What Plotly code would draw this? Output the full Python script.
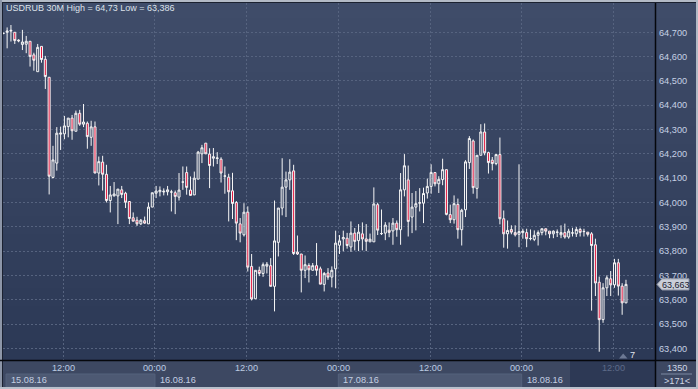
import plotly.graph_objects as go
import numpy as np

# ---------------- data ----------------
title_text = "USDRUB 30M High = 64,73 Low = 63,386"

open_ = [64.695, 64.700, 64.705, 64.700, 64.668, 64.650, 64.651, 64.663, 64.607, 64.538,
         64.642, 64.589, 64.515, 64.103, 64.162, 64.281, 64.282, 64.312, 64.347, 64.293,
         64.367, 64.322, 64.326, 64.268, 64.311, 64.121, 64.166, 64.116, 64.008, 64.027,
         64.027, 64.052, 64.038, 64.004, 63.937, 63.927, 63.912, 63.925, 63.912, 63.981,
         64.038, 64.044, 64.043, 64.044, 64.043, 64.040, 64.022, 64.084, 64.123, 64.051,
         64.031, 64.096, 64.200, 64.244, 64.199, 64.182, 64.181, 64.178, 64.108, 64.104,
         64.048, 64.000, 63.912, 63.867, 63.960, 63.737, 63.604, 63.721, 63.708, 63.738,
         63.740, 63.655, 63.836, 63.977, 64.063, 64.093, 64.130, 63.796, 63.788, 63.721,
         63.741, 63.721, 63.740, 63.727, 63.663, 63.710, 63.693, 63.727, 63.824, 63.850,
         63.853, 63.817, 63.874, 63.843, 63.871, 63.850, 63.838, 63.838, 63.991, 63.872,
         63.874, 63.886, 63.883, 63.915, 63.888, 64.052, 64.093, 63.940, 63.981, 63.997,
         63.997, 64.039, 64.066, 64.123, 64.077, 64.094, 64.135, 63.950, 63.929, 63.992,
         63.888, 63.970, 64.164, 64.253, 64.058, 64.194, 64.290, 64.205, 64.174, 64.160,
         64.197, 63.933, 63.871, 63.889, 63.876, 63.869, 63.876, 63.876, 63.851, 63.848,
         63.865, 63.876, 63.892, 63.882, 63.871, 63.877, 63.867, 63.876, 63.858, 63.874,
         63.871, 63.889, 63.880, 63.878, 63.871, 63.826, 63.672, 63.518, 63.649, 63.686,
         63.661, 63.752, 63.656, 63.587]
high = [64.698, 64.720, 64.730, 64.700, 64.671, 64.710, 64.685, 64.663, 64.616, 64.652,
        64.642, 64.603, 64.515, 64.233, 64.310, 64.312, 64.356, 64.347, 64.360, 64.378,
        64.381, 64.405, 64.333, 64.336, 64.333, 64.189, 64.192, 64.155, 64.068, 64.084,
        64.055, 64.068, 64.044, 64.004, 63.959, 63.941, 63.932, 63.942, 64.000, 64.040,
        64.068, 64.066, 64.058, 64.068, 64.052, 64.049, 64.121, 64.148, 64.148, 64.107,
        64.127, 64.212, 64.237, 64.244, 64.223, 64.224, 64.207, 64.186, 64.148, 64.118,
        64.122, 64.006, 63.936, 63.997, 63.984, 63.788, 63.721, 63.736, 63.753, 63.755,
        63.771, 64.008, 63.977, 64.182, 64.127, 64.178, 64.155, 63.864, 63.788, 63.782,
        63.750, 63.751, 63.833, 63.736, 63.714, 63.730, 63.737, 63.884, 63.866, 63.884,
        63.875, 63.922, 63.895, 63.911, 63.918, 63.911, 63.872, 64.062, 63.999, 63.971,
        63.919, 63.918, 63.936, 63.926, 64.121, 64.199, 64.152, 64.039, 64.047, 64.059,
        64.061, 64.098, 64.157, 64.123, 64.108, 64.180, 64.135, 63.991, 64.029, 64.016,
        63.974, 64.174, 64.273, 64.259, 64.194, 64.322, 64.325, 64.209, 64.187, 64.197,
        64.267, 63.967, 63.926, 63.906, 63.906, 64.157, 63.892, 63.892, 63.889, 63.885,
        63.885, 63.892, 63.892, 63.882, 63.885, 63.889, 63.906, 63.913, 63.892, 63.896,
        63.899, 63.896, 63.892, 63.878, 63.878, 63.851, 63.695, 63.668, 63.700, 63.718,
        63.768, 63.768, 63.668, 63.682]
low = [64.692, 64.634, 64.662, 64.652, 64.659, 64.627, 64.614, 64.559, 64.542, 64.538,
       64.575, 64.467, 64.033, 64.099, 64.131, 64.216, 64.260, 64.268, 64.258, 64.293,
       64.315, 64.310, 64.221, 64.233, 64.121, 64.070, 64.049, 64.000, 63.959, 64.025,
       63.911, 64.018, 63.977, 63.911, 63.923, 63.903, 63.907, 63.912, 63.912, 63.981,
       64.018, 64.025, 64.029, 64.029, 63.963, 63.952, 64.008, 64.052, 64.032, 64.029,
       64.031, 64.096, 64.162, 64.200, 64.059, 64.148, 64.158, 64.082, 64.036, 63.922,
       63.932, 63.845, 63.836, 63.860, 63.716, 63.597, 63.604, 63.697, 63.694, 63.708,
       63.655, 63.552, 63.778, 63.947, 63.940, 64.052, 63.784, 63.784, 63.630, 63.689,
       63.671, 63.721, 63.699, 63.664, 63.634, 63.682, 63.651, 63.647, 63.788, 63.799,
       63.810, 63.797, 63.803, 63.800, 63.803, 63.800, 63.838, 63.838, 63.866, 63.866,
       63.845, 63.857, 63.826, 63.859, 63.826, 64.025, 63.860, 63.874, 63.885, 63.963,
       63.915, 64.016, 64.036, 64.066, 64.039, 64.071, 63.947, 63.915, 63.913, 63.851,
       63.823, 63.940, 64.138, 64.036, 64.016, 64.194, 64.194, 64.119, 64.132, 64.153,
       63.910, 63.814, 63.810, 63.869, 63.860, 63.816, 63.851, 63.816, 63.844, 63.841,
       63.823, 63.865, 63.865, 63.853, 63.853, 63.858, 63.853, 63.851, 63.851, 63.860,
       63.858, 63.860, 63.860, 63.860, 63.555, 63.615, 63.386, 63.505, 63.615, 63.615,
       63.649, 63.617, 63.538, 63.586]
close = [64.696, 64.705, 64.708, 64.666, 64.665, 64.660, 64.663, 64.601, 64.585, 64.638,
         64.588, 64.518, 64.108, 64.175, 64.285, 64.285, 64.315, 64.347, 64.295, 64.367,
         64.322, 64.331, 64.271, 64.311, 64.121, 64.168, 64.116, 64.008, 64.031, 64.035,
         64.055, 64.033, 64.001, 63.934, 63.923, 63.912, 63.927, 63.915, 63.981, 64.040,
         64.047, 64.050, 64.046, 64.052, 64.043, 64.025, 64.051, 64.084, 64.062, 64.029,
         64.100, 64.207, 64.225, 64.200, 64.152, 64.188, 64.183, 64.121, 64.109, 64.044,
         63.996, 63.915, 63.874, 63.960, 63.734, 63.603, 63.721, 63.708, 63.744, 63.746,
         63.655, 63.842, 63.977, 64.063, 64.093, 64.125, 63.790, 63.788, 63.721, 63.744,
         63.723, 63.740, 63.721, 63.664, 63.708, 63.693, 63.721, 63.833, 63.842, 63.856,
         63.823, 63.874, 63.840, 63.878, 63.850, 63.840, 63.849, 63.994, 63.886, 63.872,
         63.907, 63.877, 63.915, 63.888, 64.052, 64.151, 63.922, 63.981, 63.995, 63.999,
         64.037, 64.066, 64.123, 64.077, 64.095, 64.135, 63.951, 63.929, 63.995, 63.888,
         63.968, 64.167, 64.263, 64.061, 64.194, 64.290, 64.204, 64.164, 64.160, 64.197,
         63.933, 63.871, 63.885, 63.878, 63.867, 63.880, 63.882, 63.851, 63.852, 63.865,
         63.876, 63.892, 63.882, 63.871, 63.882, 63.878, 63.876, 63.858, 63.882, 63.875,
         63.889, 63.877, 63.881, 63.869, 63.823, 63.669, 63.518, 63.649, 63.690, 63.661,
         63.752, 63.656, 63.587, 63.663]

bar_index = list(range(len(open_)))

# x-axis: gridline positions (in bars) and their labels
grid_pos = [15.7, 39.7, 63.7, 87.7, 111.7, 135.7, 159.7]
time_labels = ["12:00", "00:00", "12:00", "00:00", "12:00", "00:00", "12:00"]
date_labels = ["15.08.16", "16.08.16", "17.08.16", "18.08.16"]
date_pos = [-8.3, 39.7, 87.7, 135.7]

# y-axis ticks
y_tick_vals = [63.4, 63.5, 63.6, 63.7, 63.8, 63.9, 64.0, 64.1, 64.2, 64.3, 64.4, 64.5, 64.6, 64.7]
y_tick_text = ["63,400", "63,500", "63,600", "63,700", "63,800", "63,900", "64,000",
               "64,100", "64,200", "64,300", "64,400", "64,500", "64,600", "64,700"]
last_price_text = "63,663"
bars_info = ["1350", ">171<"]
shift_info = "7"

# ---------------- geometry helpers ----------------
W, H = 698, 389
PL, PR, PT, PB = 3, 655, 3, 360
X_RANGE = [-0.08, 170.6]
Y_RANGE = [63.352, 64.8205]


def px(xp):
    return (xp - PL) / (PR - PL)


def py(yp):
    return (PB - yp) / (PB - PT)


FONT = "Liberation Sans, Arial, sans-serif"
FS = 9.2

fig = go.Figure()
fig.add_trace(go.Candlestick(
    x=bar_index, open=open_, high=high, low=low, close=close,
    increasing=dict(line=dict(color="#f6f6f6", width=1), fillcolor="rgba(0,0,0,0)"),
    decreasing=dict(line=dict(color="#f6f6f6", width=1), fillcolor="#e3173f"),
    whiskerwidth=0, showlegend=False, hoverinfo="skip",
))

shapes = []
# background gradient
top_rgb = np.array([64, 77, 106])
bot_rgb = np.array([44, 57, 86])
nb = 40
for k in range(nb):
    y0p = k * PB / nb
    y1p = (k + 1) * PB / nb
    t = (k + 0.5) / nb
    c = top_rgb + (bot_rgb - top_rgb) * t
    shapes.append(dict(type="rect", xref="paper", yref="paper", layer="below",
                       x0=px(0), x1=px(W), y0=py(y1p + 0.5), y1=py(y0p),
                       fillcolor="rgb(%d,%d,%d)" % tuple(c.astype(int)), line_width=0))
# bottom axis strip
shapes.append(dict(type="rect", xref="paper", yref="paper", layer="below",
                   x0=px(0), x1=px(W), y0=py(H), y1=py(PB), fillcolor="#3d4862", line_width=0))
# date boxes (alternating)
for i, p in enumerate(date_pos):
    start = max(p, X_RANGE[0] + 0.8)
    end = date_pos[i + 1] if i + 1 < len(date_pos) else X_RANGE[1]
    if i % 2 == 0:
        shapes.append(dict(type="rect", xref="x", yref="paper", layer="below",
                           x0=start, x1=end, y0=py(387), y1=py(374),
                           fillcolor="#4d5973", line=dict(color="#55627c", width=1)))
# dark box in the time axis (current session)
shapes.append(dict(type="rect", xref="paper", yref="paper", layer="below",
                   x0=px(570), x1=px(PR), y0=py(387), y1=py(361),
                   fillcolor="#2d3955", line_width=0))
# borders
shapes += [
    dict(type="rect", xref="paper", yref="paper", x0=px(0), x1=px(W), y0=py(2), y1=py(0),
         fillcolor="#b3bac6", line_width=0),
    dict(type="rect", xref="paper", yref="paper", x0=px(0), x1=px(W), y0=py(3), y1=py(2),
         fillcolor="#1b2130", line_width=0),
    dict(type="rect", xref="paper", yref="paper", x0=px(0), x1=px(2), y0=py(H), y1=py(0),
         fillcolor="#8d96a8", line_width=0),
    dict(type="rect", xref="paper", yref="paper", x0=px(2), x1=px(3), y0=py(387), y1=py(2),
         fillcolor="#1b2130", line_width=0),
    dict(type="rect", xref="paper", yref="paper", x0=px(0), x1=px(W), y0=py(H), y1=py(387),
         fillcolor="#b8c0cc", line_width=0),
    dict(type="rect", xref="paper", yref="paper", x0=px(696), x1=px(W), y0=py(H), y1=py(0),
         fillcolor="#b3bac6", line_width=0),
    # black axis lines
    dict(type="line", xref="paper", yref="paper", x0=px(0), x1=px(696), y0=py(360.5), y1=py(360.5),
         line=dict(color="#05070c", width=1.5)),
    dict(type="line", xref="paper", yref="paper", x0=px(655.5), x1=px(655.5), y0=py(387), y1=py(3),
         line=dict(color="#05070c", width=1.5)),
    # separator in bars info box
    dict(type="line", xref="paper", yref="paper", x0=px(661), x1=px(692), y0=py(374), y1=py(374),
         line=dict(color="#7d89a2", width=1)),
    # shift marker triangle
    dict(type="path", xref="paper", yref="paper",
         path="M %f,%f L %f,%f L %f,%f Z" % (px(619), py(358.5), px(627.5), py(358.5), px(623.2), py(353.5)),
         fillcolor="#6c7893", line_width=0),
]
# current price label
c_last = close[-1]
hh = 5.6 / ((PB - PT) / (Y_RANGE[1] - Y_RANGE[0]))
shapes.append(dict(type="path", xref="paper", yref="y",
                   path="M %f,%f L %f,%f L %f,%f L %f,%f L %f,%f Z" % (
                       px(657), c_last, px(662), c_last + hh, px(689), c_last + hh,
                       px(689), c_last - hh, px(662), c_last - hh),
                   fillcolor="#c9ced8", line=dict(color="#8e95a5", width=1)))

annotations = [
    dict(text=title_text, xref="paper", yref="paper", x=px(4), y=py(8.5), xanchor="left",
         yanchor="middle", showarrow=False, font=dict(family=FONT, size=9.0, color="#dde2ea")),
    dict(text=last_price_text, xref="paper", yref="y", x=px(675.5), y=c_last, yshift=-1,
         xanchor="center", yanchor="middle", showarrow=False, borderpad=0,
         font=dict(family=FONT, size=9.0, color="#1c2230")),
    dict(text=bars_info[0], xref="paper", yref="paper", x=px(677), y=py(367.5), xanchor="center",
         yanchor="middle", showarrow=False, font=dict(family=FONT, size=FS, color="#d0d7e5")),
    dict(text=bars_info[1], xref="paper", yref="paper", x=px(676.5), y=py(381), xanchor="center",
         yanchor="middle", showarrow=False, font=dict(family=FONT, size=FS, color="#d0d7e5")),
    dict(text=shift_info, xref="paper", yref="paper", x=px(632.5), y=py(355), xanchor="center",
         yanchor="middle", showarrow=False, font=dict(family=FONT, size=FS, color="#e2e7f0")),
]
for i, (p, lab) in enumerate(zip(grid_pos, time_labels)):
    col = "#5d6b89" if i == len(grid_pos) - 1 else "#bccbe2"
    annotations.append(dict(text=lab, xref="x", yref="paper", x=p, y=py(368.5), xanchor="center",
                            yanchor="middle", showarrow=False,
                            font=dict(family=FONT, size=FS, color=col)))
for i, (p, lab) in enumerate(zip(date_pos, date_labels)):
    start = max(p, X_RANGE[0] + 0.8)
    annotations.append(dict(text=lab, xref="x", yref="paper", x=start, xshift=3, y=py(380),
                            xanchor="left", yanchor="middle", showarrow=False,
                            font=dict(family=FONT, size=FS, color="#c4cfe2")))

fig.update_layout(
    width=W, height=H,
    margin=dict(l=PL, r=W - PR, t=PT, b=H - PB, pad=0),
    paper_bgcolor="#3a4762", plot_bgcolor="rgba(0,0,0,0)",
    showlegend=False,
    shapes=shapes, annotations=annotations,
    xaxis=dict(range=X_RANGE, tickmode="array", tickvals=grid_pos, showticklabels=False,
               showgrid=True, gridcolor="#56637f", griddash="2px,2px", gridwidth=1,
               zeroline=False, showline=False, ticks="", rangeslider=dict(visible=False),
               fixedrange=True),
    yaxis=dict(range=Y_RANGE, side="right", tickmode="array", tickvals=y_tick_vals,
               ticktext=y_tick_text, tickfont=dict(family=FONT, size=9.2, color="#c6d0e4"),
               showgrid=True, gridcolor="#56637f", griddash="2px,2px", gridwidth=1,
               zeroline=False, showline=False, ticks="", ticklabelstandoff=3, fixedrange=True),
    boxgap=0.25,
)

fig.write_html("out.html")
